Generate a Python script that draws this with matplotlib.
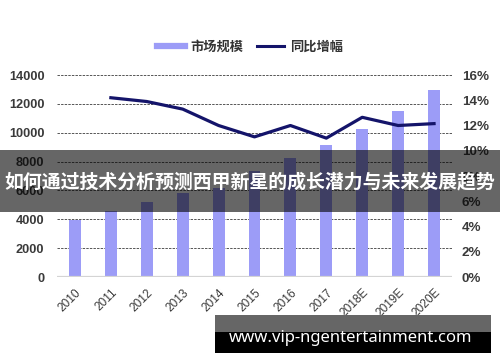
import matplotlib
matplotlib.use("Agg")
import matplotlib.pyplot as plt
from matplotlib.lines import Line2D
from matplotlib.patches import Rectangle
import numpy as np

plt.rcParams['font.family'] = ['Liberation Sans', 'Noto Sans CJK SC', 'DejaVu Sans']

years = ['2010', '2011', '2012', '2013', '2014', '2015', '2016', '2017', '2018E', '2019E', '2020E']
market_size = [3950, 4600, 5220, 5800, 6150, 7350, 8250, 9150, 10260, 11530, 12960]
growth_years = ['2011', '2012', '2013', '2014', '2015', '2016', '2017', '2018E', '2019E', '2020E']
growth_pct = [14.2, 13.9, 13.3, 12.0, 11.1, 12.0, 11.0, 12.65, 12.0, 12.15]
left_ticks = [0, 2000, 4000, 6000, 8000, 10000, 12000, 14000]
right_ticks = [0, 2, 4, 6, 8, 10, 12, 14, 16]
legend_labels = ['市场规模', '同比增幅']
banner_text = '如何通过技术分析预测西甲新星的成长潜力与未来发展趋势'
watermark_text = 'www.vip-ngentertainment.com'

bar_color = '#9c9cf7'
line_color = '#14146a'
tick_color = '#3a3a3a'

fig = plt.figure(figsize=(5.0, 3.62), dpi=100)
ax = fig.add_axes([0.114, 0.2348, 0.79, 0.558])
ax2 = ax.twinx()

x = np.arange(len(years))
ax.bar(x, market_size, width=0.33, color=bar_color, zorder=2)
ax.set_xlim(-0.5, len(years) - 0.5)
ax.set_ylim(0, 14000)
ax.set_yticks(left_ticks)
ax.set_yticklabels([str(v) for v in left_ticks])
for v in left_ticks[1:]:
    ax.axhline(v, color='#555555', lw=0.7, ls=(0, (2.5, 1.2)), zorder=1)
ax.axhline(0, color='#d4d4d4', lw=1.6, zorder=3)

gx = [years.index(g) for g in growth_years]
ax2.plot(gx, growth_pct, color=line_color, lw=2.3, zorder=4)
ax2.set_ylim(0, 16)
ax2.set_yticks(right_ticks)
ax2.set_yticklabels([f'{v}%' for v in right_ticks])

for a in (ax, ax2):
    for s in a.spines.values():
        s.set_visible(False)

ax.set_xticks(x)
ax.set_xticklabels(years, rotation=45, ha='right', rotation_mode='anchor',
                   fontsize=8.6, color=tick_color)
ax.tick_params(axis='x', length=0, pad=7)
ax.tick_params(axis='y', length=0, pad=9, labelsize=9.2, labelcolor=tick_color)
ax2.tick_params(axis='y', length=0, pad=7, labelsize=9.6, labelcolor=tick_color)
for lab in ax.get_yticklabels() + ax2.get_yticklabels():
    lab.set_fontweight('bold')

handles = [Line2D([0], [0], color=bar_color, lw=4.5),
           Line2D([0], [0], color=line_color, lw=2.2)]
fig.legend(handles, legend_labels, loc='center', bbox_to_anchor=(0.5, 0.87),
           ncol=2, frameon=False, handlelength=2.1, handletextpad=0.4,
           columnspacing=1.0, prop={'family': ['Noto Sans CJK SC'], 'size': 9.5, 'weight': 'bold'},
           labelcolor='#333333')

# banner overlay
fig.add_artist(Rectangle((0, 1 - 212 / 362), 1, 62 / 362, transform=fig.transFigure,
                         facecolor='black', alpha=0.6, edgecolor='none', zorder=10))
fig.text(0.5, 1 - 182 / 362, banner_text, ha='center', va='center', color='white',
         fontsize=13.6, fontweight='bold', family=['Noto Sans CJK SC'], zorder=11)

# watermark
fig.add_artist(Rectangle((215 / 500, 1 - 332 / 362), 276 / 500, 17 / 362, transform=fig.transFigure,
                         facecolor='#666666', edgecolor='none', zorder=10))
fig.add_artist(Rectangle((215 / 500, 1 - 353 / 362), 276 / 500, 21 / 362, transform=fig.transFigure,
                         facecolor='black', edgecolor='none', zorder=10))
fig.text(351 / 500, 1 - 338 / 362, watermark_text, ha='center', va='center', color='white',
         fontsize=12, fontweight='bold', family=['Noto Sans', 'DejaVu Sans'], zorder=11)

fig.savefig('out.png', dpi=100)
